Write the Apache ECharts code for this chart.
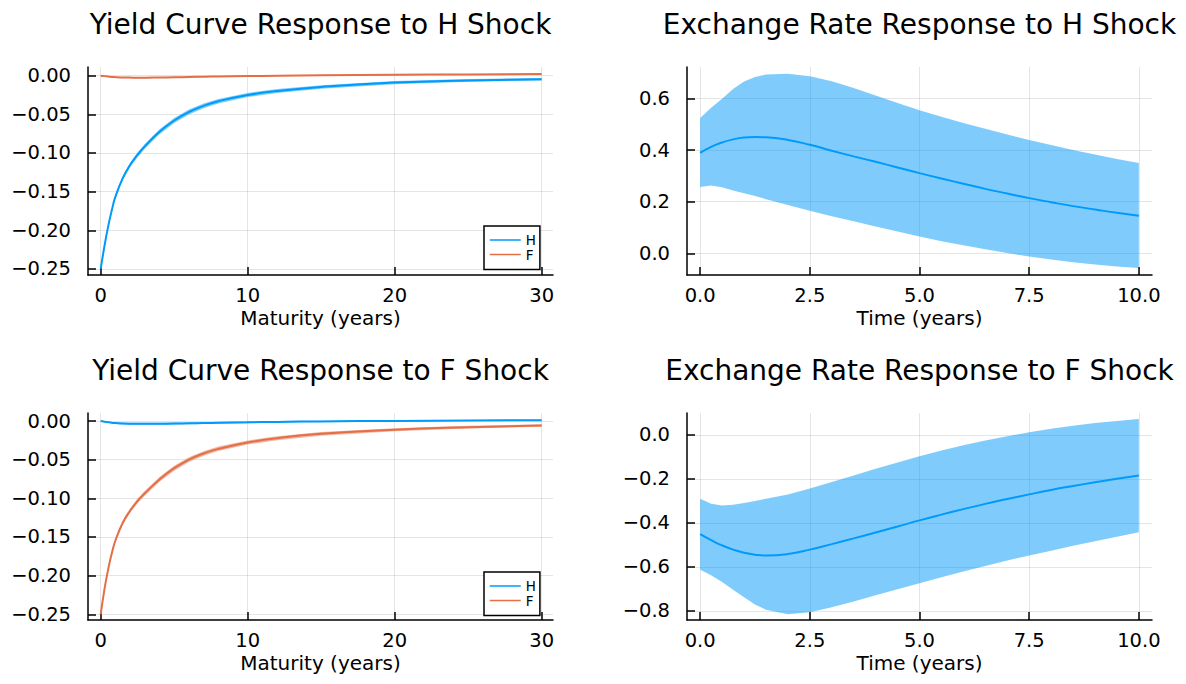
<!DOCTYPE html>
<html><head><meta charset="utf-8">
<script src="https://cdn.jsdelivr.net/npm/echarts@6/dist/echarts.min.js"></script>
<style>html,body{margin:0;padding:0;background:#fff}#c{width:1186px;height:684px}</style>
</head><body><div id="c"></div>
<script>
// ---------- data ----------
const maturity = [0,0.25,0.5,0.75,1,1.5,2,2.5,3,4,5,6,7,8,10,12,15,20,25,30];
// Yield curve response to H shock
const ycH_H    = [-0.250,-0.221,-0.1955,-0.1745,-0.1565,-0.1325,-0.1155,-0.1025,-0.0915,-0.0725,-0.058,-0.047,-0.039,-0.033,-0.025,-0.0198,-0.0146,-0.009,-0.0062,-0.0045];
const ycH_H_lo = [-0.250,-0.2218,-0.1969,-0.1764,-0.1587,-0.1351,-0.1183,-0.1055,-0.0946,-0.0757,-0.0612,-0.0501,-0.042,-0.0359,-0.0277,-0.0223,-0.0169,-0.011,-0.008,-0.0061];
const ycH_H_hi = [-0.250,-0.2202,-0.1941,-0.1726,-0.1543,-0.1299,-0.1127,-0.0995,-0.0884,-0.0693,-0.0548,-0.0439,-0.036,-0.0301,-0.0223,-0.0173,-0.0123,-0.007,-0.0044,-0.0029];
const ycH_F    = [0,-0.0006,-0.0011,-0.0016,-0.0019,-0.0023,-0.0025,-0.0026,-0.0026,-0.0024,-0.0021,-0.0017,-0.0013,-0.0010,-0.0005,-0.0001,0.0004,0.0011,0.0016,0.0020];
const ycH_F_lo = [0,-0.0009,-0.0015,-0.0021,-0.0025,-0.0030,-0.0032,-0.0033,-0.0033,-0.0031,-0.0028,-0.0024,-0.0020,-0.0017,-0.0011,-0.0007,-0.0002,0.0006,0.0011,0.0015];
const ycH_F_hi = [0,-0.0003,-0.0007,-0.0011,-0.0013,-0.0016,-0.0018,-0.0019,-0.0019,-0.0017,-0.0014,-0.0010,-0.0006,-0.0003,0.0001,0.0005,0.0010,0.0016,0.0021,0.0025];
// Yield curve response to F shock
const ycF_H    = [0,-0.0008,-0.0015,-0.0021,-0.0025,-0.0031,-0.0034,-0.0035,-0.0036,-0.0035,-0.0033,-0.0030,-0.0026,-0.0023,-0.0017,-0.0011,-0.0005,0.0002,0.0007,0.0010];
const ycF_H_lo = [0,-0.0012,-0.0022,-0.0030,-0.0036,-0.0043,-0.0047,-0.0048,-0.0049,-0.0048,-0.0046,-0.0042,-0.0038,-0.0034,-0.0028,-0.0021,-0.0014,-0.0006,-0.0001,0.0002];
const ycF_H_hi = [0,-0.0004,-0.0008,-0.0012,-0.0014,-0.0019,-0.0021,-0.0022,-0.0023,-0.0022,-0.0020,-0.0018,-0.0014,-0.0012,-0.0006,-0.0001,0.0004,0.0010,0.0015,0.0018];
const ycF_F    = [-0.250,-0.218,-0.1925,-0.1715,-0.1545,-0.1315,-0.116,-0.1035,-0.0935,-0.0755,-0.061,-0.050,-0.042,-0.036,-0.0278,-0.0222,-0.0166,-0.0112,-0.0080,-0.0058];
const ycF_F_lo = [-0.250,-0.2188,-0.1939,-0.1734,-0.1567,-0.1341,-0.1188,-0.1065,-0.0966,-0.0787,-0.0642,-0.0531,-0.045,-0.0389,-0.0305,-0.0247,-0.0189,-0.0132,-0.0098,-0.0074];
const ycF_F_hi = [-0.250,-0.2172,-0.1911,-0.1696,-0.1523,-0.1289,-0.1132,-0.1005,-0.0904,-0.0723,-0.0578,-0.0469,-0.039,-0.0331,-0.0251,-0.0197,-0.0143,-0.0092,-0.0062,-0.0042];

const time = [0,0.25,0.5,0.75,1,1.25,1.5,2,2.5,3,3.5,4,4.5,5,5.5,6,6.5,7,7.5,8,8.5,9,9.5,10];
// Exchange rate response to H shock
const erH    = [0.390,0.413,0.430,0.442,0.449,0.451,0.450,0.440,0.421,0.398,0.376,0.355,0.333,0.311,0.290,0.270,0.250,0.232,0.214,0.198,0.183,0.170,0.157,0.146];
const erH_hi = [0.525,0.565,0.600,0.638,0.667,0.684,0.694,0.697,0.687,0.668,0.641,0.612,0.583,0.555,0.530,0.506,0.483,0.461,0.440,0.420,0.401,0.383,0.366,0.350];
const erH_lo = [0.257,0.263,0.256,0.244,0.233,0.222,0.210,0.187,0.165,0.144,0.124,0.104,0.084,0.065,0.047,0.031,0.016,0.001,-0.013,-0.024,-0.035,-0.044,-0.051,-0.057];
// Exchange rate response to F shock
const erF    = [-0.451,-0.478,-0.502,-0.521,-0.535,-0.544,-0.548,-0.541,-0.521,-0.496,-0.470,-0.443,-0.416,-0.388,-0.362,-0.337,-0.313,-0.291,-0.270,-0.250,-0.232,-0.215,-0.199,-0.184];
const erF_hi = [-0.290,-0.313,-0.320,-0.317,-0.309,-0.300,-0.290,-0.270,-0.243,-0.214,-0.184,-0.154,-0.125,-0.097,-0.071,-0.047,-0.025,-0.006,0.012,0.028,0.042,0.054,0.064,0.073];
const erF_lo = [-0.613,-0.638,-0.668,-0.703,-0.738,-0.770,-0.794,-0.815,-0.806,-0.783,-0.757,-0.729,-0.701,-0.674,-0.647,-0.620,-0.595,-0.571,-0.548,-0.526,-0.504,-0.483,-0.462,-0.442];

const titles = ['Yield Curve Response to H Shock','Exchange Rate Response to H Shock','Yield Curve Response to F Shock','Exchange Rate Response to F Shock'];
const xNames = ['Maturity (years)','Time (years)','Maturity (years)','Time (years)'];
const ycXTicks = [0,10,20,30];
const erXTicks = [0,2.5,5,7.5,10];
const ycYTicks = [-0.25,-0.2,-0.15,-0.1,-0.05,0];
const erHYTicks = [0,0.2,0.4,0.6];
const erFYTicks = [-0.8,-0.6,-0.4,-0.2,0];
const legendNames = ['H','F'];

// ---------- style ----------
const BLUE = '#009AFA', ORANGE = '#E36F47';
const BLUE_A = 'rgba(0,154,250,0.5)', ORANGE_A = 'rgba(227,111,71,0.5)';
const FONT = 'DejaVu Sans';
const grids = [
  {left:88,  top:67,  width:465, height:208},
  {left:687, top:67,  width:465, height:208},
  {left:88,  top:413, width:465, height:207},
  {left:687, top:413, width:465, height:207}
];
const xr = [[-0.865,30.77],[-0.30,10.30],[-0.865,30.77],[-0.30,10.30]];
const yr = [[-0.2578,0.0112],[-0.0844,0.723],[-0.2574,0.0104],[-0.841,0.100]];
const xT = [ycXTicks, erXTicks, ycXTicks, erXTicks];
const yT = [ycYTicks, erHYTicks, ycYTicks, erFYTicks];
const fmt = d => v => (v < -1e-12 ? '\u2212' : '') + Math.abs(v).toFixed(d);
const xF = [v => String(Math.round(v)), fmt(1), v => String(Math.round(v)), fmt(1)];
const yF = [fmt(2), fmt(1), fmt(2), fmt(1)];

const zip = (xs, ys) => xs.map((x, i) => [x, ys[i]]);

function band(idx, xs, lo, hi, color, name) {
  return {
    type: 'custom', name: name, xAxisIndex: idx, yAxisIndex: idx, silent: true, clip: true,
    data: xs.map((x, i) => [x, lo[i], hi[i]]),
    encode: {x: 0, y: [1, 2]},
    renderItem: function (params, api) {
      if (params.dataIndex !== 0) return;
      const pts = [];
      for (let i = 0; i < xs.length; i++) pts.push(api.coord([xs[i], hi[i]]));
      for (let i = xs.length - 1; i >= 0; i--) pts.push(api.coord([xs[i], lo[i]]));
      return {type: 'polygon', shape: {points: pts}, style: {fill: color, stroke: null}};
    }
  };
}
function line(idx, xs, ys, color, name) {
  return {
    type: 'line', name: name, xAxisIndex: idx, yAxisIndex: idx, data: zip(xs, ys),
    symbol: 'none', showSymbol: false, smooth: 0.5,
    lineStyle: {color: color, width: 2}, itemStyle: {color: color}, silent: true
  };
}

const xAxes = grids.map((g, i) => ({
  type: 'value', gridIndex: i, min: xr[i][0], max: xr[i][1],
  name: xNames[i], nameLocation: 'middle', nameGap: 33,
  nameTextStyle: {fontFamily: FONT, fontSize: 20, color: '#000'},
  axisLine: {onZero: false, lineStyle: {color: '#000', width: 1.5}},
  axisTick: {inside: true, length: 8, customValues: xT[i], lineStyle: {color: '#000', width: 1.5}},
  axisLabel: {customValues: xT[i], formatter: xF[i], margin: 10, fontFamily: FONT, fontSize: 19.5, color: '#000'},
  splitLine: {show: true, lineStyle: {color: 'rgba(0,0,0,0.1)', width: 1}}
}));
const yAxes = grids.map((g, i) => ({
  type: 'value', gridIndex: i, min: yr[i][0], max: yr[i][1],
  axisLine: {show: true, onZero: false, lineStyle: {color: '#000', width: 1.5}},
  axisTick: {show: true, inside: true, length: 8, customValues: yT[i], lineStyle: {color: '#000', width: 1.5}},
  axisLabel: {customValues: yT[i], formatter: yF[i], margin: 17, fontFamily: FONT, fontSize: 19.5, color: '#000'},
  splitLine: {show: true, lineStyle: {color: 'rgba(0,0,0,0.1)', width: 1}}
}));

const legendBase = {
  data: legendNames, orient: 'vertical', itemWidth: 31, itemHeight: 13, itemGap: 0.5,
  padding: [7, 4, 8, 5], borderColor: '#000', borderWidth: 1.5, borderRadius: 0,
  backgroundColor: '#fff', selectedMode: false,
  textStyle: {fontFamily: FONT, fontSize: 13.5, color: '#000'},
  lineStyle: {width: 1.5},
  itemStyle: {opacity: 0}
};

const chart = echarts.init(document.getElementById('c'), null, {renderer: 'svg'});
chart.setOption({
  animation: false,
  backgroundColor: '#fff',
  grid: grids.map(g => Object.assign({outerBoundsMode: 'none', containLabel: false}, g)),
  xAxis: xAxes,
  yAxis: yAxes,
  legend: [
    Object.assign({left: 484, top: 226}, legendBase),
    Object.assign({left: 484, top: 572}, legendBase)
  ],
  graphic: titles.map((t, i) => ({
    type: 'text', x: grids[i].left + grids[i].width / 2, y: grids[i].top - 43, silent: true,
    style: {text: t, align: 'center', verticalAlign: 'middle', fontFamily: FONT, fontSize: 28, fill: '#000'}
  })),
  series: [
    band(0, maturity, ycH_H_lo, ycH_H_hi, BLUE_A, 'H band'),
    line(0, maturity, ycH_H, BLUE, 'H'),
    band(0, maturity, ycH_F_lo, ycH_F_hi, ORANGE_A, 'F band'),
    line(0, maturity, ycH_F, ORANGE, 'F'),
    band(1, time, erH_lo, erH_hi, BLUE_A, 'ER band H'),
    line(1, time, erH, BLUE, 'ER H'),
    band(2, maturity, ycF_H_lo, ycF_H_hi, BLUE_A, 'H band 2'),
    line(2, maturity, ycF_H, BLUE, 'H'),
    band(2, maturity, ycF_F_lo, ycF_F_hi, ORANGE_A, 'F band 2'),
    line(2, maturity, ycF_F, ORANGE, 'F'),
    band(3, time, erF_lo, erF_hi, BLUE_A, 'ER band F'),
    line(3, time, erF, BLUE, 'ER F')
  ]
});
</script></body></html>
